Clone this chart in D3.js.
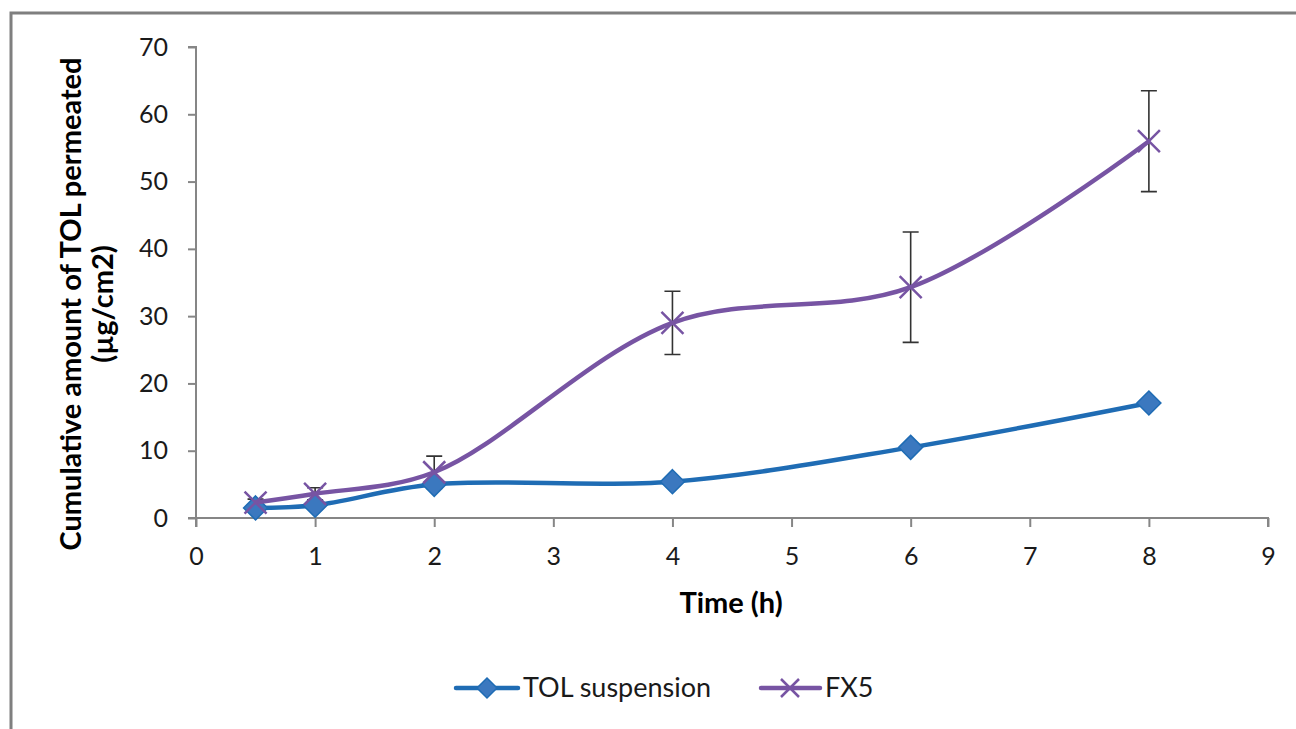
<!DOCTYPE html>
<html>
<head>
<meta charset="utf-8">
<script src="https://cdn.jsdelivr.net/npm/d3@7"></script>
<style>
  body { margin: 0; background: #fff; }
  svg { display: block; font-family: Lato, "Open Sans", sans-serif; }
</style>
</head>
<body>
<svg id="chart" width="1296" height="729"></svg>
<script>
// data
const times = [0.5, 1, 2, 4, 6, 8];
const tolSuspension = [1.5, 1.9, 5.0, 5.4, 10.5, 17.1];
const fx5 = [2.3, 3.6, 6.8, 29.0, 34.3, 56.0];
const fx5Err = [0.5, 0.9, 2.4, 4.7, 8.2, 7.5];
const xTicks = [0, 1, 2, 3, 4, 5, 6, 7, 8, 9];
const yTicks = [0, 10, 20, 30, 40, 50, 60, 70];

const svg = d3.select("#chart");

// outer frame (only left & top visible in the crop)
svg.append("path")
    .attr("d", "M11,729 L11,13 L1296,13")
    .attr("fill", "none")
    .attr("stroke", "#7f7f7f")
    .attr("stroke-width", 3);

const x = d3.scaleLinear().domain([0, 9]).range([196, 1268]);
const y = d3.scaleLinear().domain([0, 70]).range([518, 47]);

// x axis
const xAxis = svg.append("g").attr("transform", "translate(0," + y(0) + ")")
    .call(d3.axisBottom(x).tickValues(xTicks).tickSize(9).tickPadding(20));
// y axis
const yAxis = svg.append("g").attr("transform", "translate(" + x(0) + ",0)")
    .call(d3.axisLeft(y).tickValues(yTicks).tickSize(8).tickPadding(20));

[xAxis, yAxis].forEach(function(a) {
    a.select(".domain").attr("stroke", "#868686").attr("stroke-width", 2);
    a.selectAll(".tick line").attr("stroke", "#868686").attr("stroke-width", 2);
    a.selectAll(".tick text")
        .attr("font-size", 25)
        .attr("fill", "#1a1a1a")
        .attr("font-family", "Lato, 'Open Sans', sans-serif");
});
yAxis.select(".domain").attr("d", "M-8," + y(70) + "H0V" + y(0) + "H-8");
xAxis.select(".domain").attr("d", "M" + x(0) + ",9V0H" + x(9) + "V9");

// axis titles
svg.append("text")
    .attr("x", 731).attr("y", 613)
    .attr("text-anchor", "middle")
    .attr("font-size", 29).attr("font-weight", "bold")
    .text("Time (h)");

svg.append("text")
    .attr("transform", "translate(81,304) rotate(-90)")
    .attr("text-anchor", "middle")
    .attr("font-size", 29).attr("font-weight", "bold")
    .text("Cumulative amount of TOL permeated");
svg.append("text")
    .attr("transform", "translate(113,304) rotate(-90)")
    .attr("text-anchor", "middle")
    .attr("font-size", 29).attr("font-weight", "bold")
    .text("(µg/cm2)");

const blue = "#1f6cb4";
const blueFill = "#3b78bf";
const purple = "#7754a3";

const line = d3.line()
    .x(function(d) { return x(d[0]); })
    .y(function(d) { return y(d[1]); })
    .curve(d3.curveCatmullRom.alpha(0.5));

const tolPts = times.map(function(t, i) { return [t, tolSuspension[i]]; });
const fxPts = times.map(function(t, i) { return [t, fx5[i]]; });

// FX5 error bars
const eb = svg.append("g").attr("stroke", "#333").attr("stroke-width", 1.6).attr("fill", "none");
times.forEach(function(t, i) {
    const cx = x(t), hi = y(fx5[i] + fx5Err[i]), lo = y(fx5[i] - fx5Err[i]);
    eb.append("path")
        .attr("d", "M" + cx + "," + hi + "V" + lo +
            "M" + (cx - 8) + "," + hi + "H" + (cx + 8) +
            "M" + (cx - 8) + "," + lo + "H" + (cx + 8));
});

// TOL suspension
svg.append("path").datum(tolPts)
    .attr("d", line)
    .attr("fill", "none").attr("stroke", blue).attr("stroke-width", 4.5)
    .attr("stroke-linejoin", "round");

function diamond(g, cx, cy, r) {
    g.append("path")
        .attr("d", "M" + cx + "," + (cy - r) + "L" + (cx + r) + "," + cy +
            "L" + cx + "," + (cy + r) + "L" + (cx - r) + "," + cy + "Z")
        .attr("fill", blueFill).attr("stroke", blue).attr("stroke-width", 1.5);
}
const tolMarks = svg.append("g");
tolPts.forEach(function(d) { diamond(tolMarks, x(d[0]), y(d[1]), 12); });

// FX5
svg.append("path").datum(fxPts)
    .attr("d", line)
    .attr("fill", "none").attr("stroke", purple).attr("stroke-width", 4.5)
    .attr("stroke-linejoin", "round");

function cross(g, cx, cy, r) {
    g.append("path")
        .attr("d", "M" + (cx - r) + "," + (cy - r) + "L" + (cx + r) + "," + (cy + r) +
            "M" + (cx - r) + "," + (cy + r) + "L" + (cx + r) + "," + (cy - r))
        .attr("stroke", purple).attr("stroke-width", 2.5).attr("fill", "none");
}
const fxMarks = svg.append("g");
fxPts.forEach(function(d) { cross(fxMarks, x(d[0]), y(d[1]), 11); });

// legend
const leg = svg.append("g");
leg.append("line").attr("x1", 456).attr("x2", 518).attr("y1", 688).attr("y2", 688)
    .attr("stroke", blue).attr("stroke-width", 4.5).attr("stroke-linecap", "round");
diamond(leg, 487, 688, 10);
leg.append("text").attr("x", 523).attr("y", 697)
    .attr("font-size", 27).attr("fill", "#1a1a1a").text("TOL suspension");

leg.append("line").attr("x1", 761).attr("x2", 820).attr("y1", 688).attr("y2", 688)
    .attr("stroke", purple).attr("stroke-width", 4.5).attr("stroke-linecap", "round");
cross(leg, 790, 688, 9);
leg.append("text").attr("x", 825).attr("y", 697)
    .attr("font-size", 27).attr("fill", "#1a1a1a").text("FX5");
</script>
</body>
</html>
